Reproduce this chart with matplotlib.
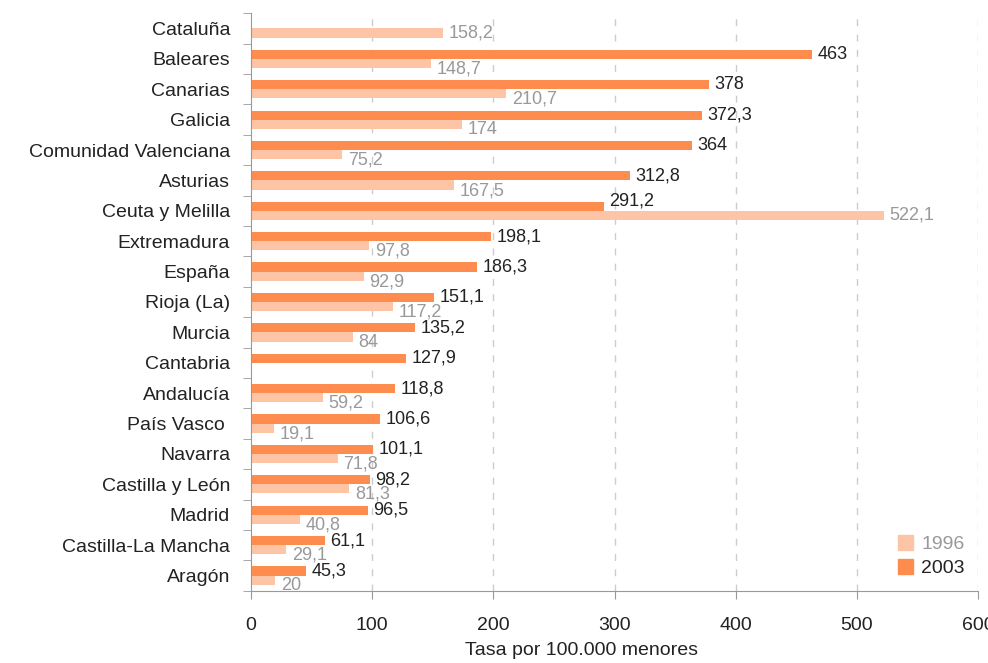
import numpy as np
import matplotlib
matplotlib.use('Agg')
import matplotlib.pyplot as plt
import matplotlib.patches as mpatches

plt.rcParams['font.family'] = ['Liberation Sans', 'DejaVu Sans']

# ── Data ──────────────────────────────────────────────────
regions = ['Cataluña', 'Baleares', 'Canarias', 'Galicia', 'Comunidad Valenciana',
           'Asturias', 'Ceuta y Melilla', 'Extremadura', 'España', 'Rioja (La)',
           'Murcia', 'Cantabria', 'Andalucía', 'País Vasco ', 'Navarra',
           'Castilla y León', 'Madrid', 'Castilla-La Mancha', 'Aragón']
rate_2003 = [None, 463, 378, 372.3, 364, 312.8, 291.2, 198.1, 186.3, 151.1,
             135.2, 127.9, 118.8, 106.6, 101.1, 98.2, 96.5, 61.1, 45.3]
rate_1996 = [158.2, 148.7, 210.7, 174, 75.2, 167.5, 522.1, 97.8, 92.9, 117.2,
             84, None, 59.2, 19.1, 71.8, 81.3, 40.8, 29.1, 20]
x_ticks = [0, 100, 200, 300, 400, 500, 600]

c2003 = '#FF8C4F'
c1996 = '#FDC5A5'
grey_txt = '#999999'

def fmt(v):
    return f'{v:g}'.replace('.', ',')

fig = plt.figure(figsize=(9.88, 6.63), dpi=100)
ax = fig.add_axes([0.254, 0.109, 0.736, 0.871])

y = np.arange(len(regions))
h = 0.3

for i, (a, b) in enumerate(zip(rate_2003, rate_1996)):
    # labels shift apart when the 1996 bar is the longer one
    up_2003 = 0
    down_1996 = -4
    if a is None or (b is not None and b > a):
        down_1996 = 0
        up_2003 = 4
    if a is not None:
        ax.barh(y[i] - h / 2, a, height=h, color=c2003, zorder=2)
        ax.annotate(fmt(a), (a, y[i] - h / 2), xytext=(4, up_2003),
                    textcoords='offset points', va='center', ha='left',
                    fontsize=13, color='#222222', zorder=3)
    if b is not None:
        ax.barh(y[i] + h / 2, b, height=h, color=c1996, zorder=2)
        ax.annotate(fmt(b), (b, y[i] + h / 2), xytext=(4, down_1996),
                    textcoords='offset points', va='center', ha='left',
                    fontsize=13, color=grey_txt, zorder=3)

ax.set_xlim(0, 600)
ax.set_ylim(len(regions) - 0.5, -0.5)

ax.set_xticks(x_ticks)
ax.set_xticklabels([str(t) for t in x_ticks], fontsize=14, color='#222222')
ax.tick_params(axis='x', length=6, color='#999999', pad=13)

ax.set_yticks(y)
ax.set_yticklabels(regions, fontsize=14, color='#222222')
ax.tick_params(axis='y', which='major', length=0, pad=15)
ax.set_yticks(np.arange(len(regions) + 1) - 0.5, minor=True)
ax.tick_params(axis='y', which='minor', length=6, color='#999999')

for s in ['top', 'right']:
    ax.spines[s].set_visible(False)
for s in ['left', 'bottom']:
    ax.spines[s].set_color('#999999')

for t in x_ticks[1:]:
    ax.axvline(t, color='#cccccc', linestyle=(0, (5, 6)), linewidth=1, zorder=1)

ax.set_xlabel('Tasa por 100.000 menores', fontsize=14, color='#222222', labelpad=9)
ax.xaxis.set_label_coords(0.455, -0.088)

handles = [mpatches.Patch(color=c1996, label='1996'),
           mpatches.Patch(color=c2003, label='2003')]
leg = ax.legend(handles=handles, loc='lower right', bbox_to_anchor=(1.0, 0.0),
                frameon=False, fontsize=14, handlelength=0.8, handleheight=0.8,
                handletextpad=0.4, labelspacing=0.3, borderaxespad=0.3)
leg.get_texts()[0].set_color(grey_txt)
leg.get_texts()[1].set_color('#222222')

fig.savefig('out.png', dpi=100)
